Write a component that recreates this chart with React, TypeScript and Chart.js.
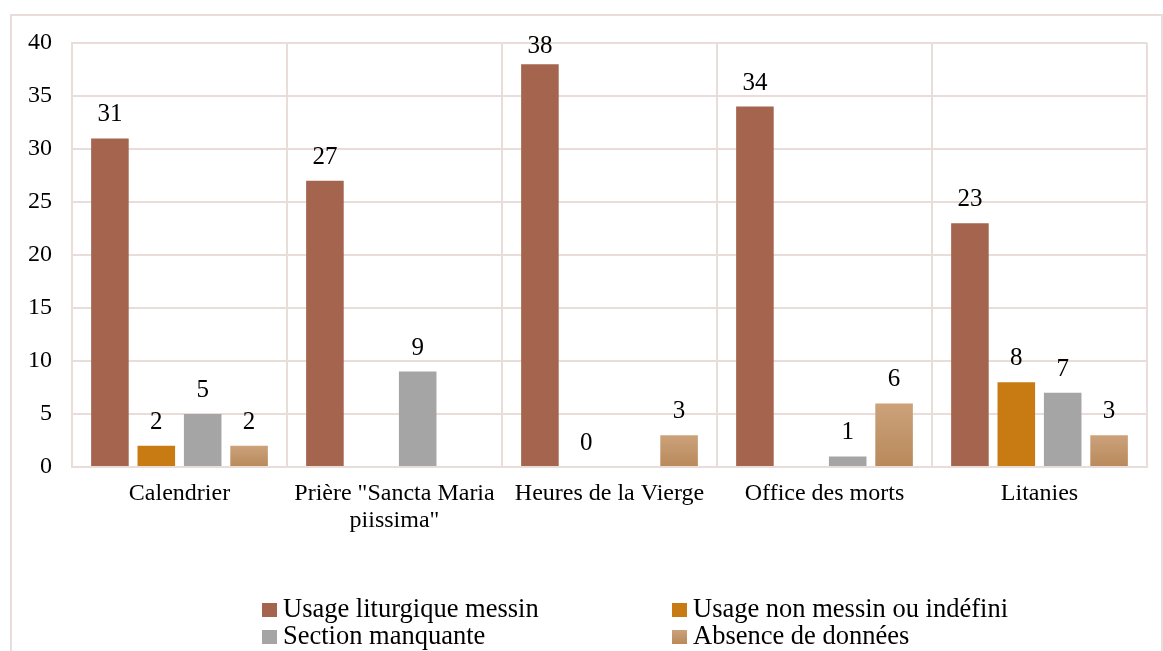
import React, { useEffect, useRef } from "react";
import { Chart, registerables } from "chart.js";

Chart.register(...registerables);

const categories: (string | string[])[] = [
  "Calendrier",
  ["Prière \"Sancta Maria", "piissima\""],
  "Heures de la Vierge",
  "Office des morts",
  "Litanies",
];
const seriesNames = [
  "Usage liturgique messin",
  "Usage non messin ou indéfini",
  "Section manquante",
  "Absence de données",
];
const usageMessin: (number | null)[] = [31, 27, 38, 34, 23];
const usageNonMessin: (number | null)[] = [2, null, 0, null, 8];
const sectionManquante: (number | null)[] = [5, 9, null, 1, 7];
const absenceDonnees: (number | null)[] = [2, null, 3, 6, 3];
const yMin = 0;
const yMax = 40;
const yStep = 5;

const FONT = "'Liberation Serif', 'Times New Roman', serif";
const GRID = "#E8DDD8";
const COLORS = ["#A4644D", "#C87B12", "#A5A5A5", "#C49A6C"];
const TAN_TOP = "#CCA27B";
const TAN_BOTTOM = "#B8895A";

const valueLabels = {
  id: "valueLabels",
  afterDatasetsDraw(chart: any) {
    const ctx = chart.ctx;
    ctx.save();
    ctx.font = `25px ${FONT}`;
    ctx.fillStyle = "#000";
    ctx.textAlign = "center";
    ctx.textBaseline = "alphabetic";
    chart.data.datasets.forEach((ds: any, di: number) => {
      const meta = chart.getDatasetMeta(di);
      meta.data.forEach((el: any, i: number) => {
        const v = ds.data[i];
        if (v === null || v === undefined) return;
        const by = Math.max(el.y - 17, chart.chartArea.top + 10);
        ctx.fillText(String(v), el.x, by);
      });
    });
    ctx.restore();
  },
};

const frameAndLegend = {
  id: "frameAndLegend",
  beforeDraw(chart: any) {
    const ctx = chart.ctx;
    ctx.save();
    ctx.fillStyle = "#fff";
    ctx.fillRect(0, 0, chart.width, chart.height);
    ctx.strokeStyle = GRID;
    ctx.lineWidth = 2;
    ctx.strokeRect(11, 15, 1151, 700);
    ctx.restore();
  },
  afterDraw(chart: any) {
    const ctx = chart.ctx;
    ctx.save();
    ctx.font = `26.5px ${FONT}`;
    ctx.fillStyle = "#000";
    ctx.textBaseline = "alphabetic";
    ctx.textAlign = "left";
    const cols = [262, 672];
    const rows = [617, 644];
    chart.data.datasets.forEach((ds: any, i: number) => {
      const mx = cols[i % 2];
      const by = rows[Math.floor(i / 2)];
      if (i === 3) {
        const g = ctx.createLinearGradient(0, by - 14, 0, by);
        g.addColorStop(0, TAN_TOP);
        g.addColorStop(1, TAN_BOTTOM);
        ctx.fillStyle = g;
      } else {
        ctx.fillStyle = COLORS[i];
      }
      ctx.fillRect(mx, by - 14, 15, 14);
      ctx.fillStyle = "#000";
      ctx.fillText(ds.label, mx + 21, by);
    });
    ctx.restore();
  },
};

function tanGradient(c: any) {
  const chart = c.chart;
  const y = chart.scales && chart.scales.y;
  if (!y || c.raw === null || c.raw === undefined) return COLORS[3];
  const top = y.getPixelForValue(c.raw);
  const bot = y.getPixelForValue(0);
  if (!isFinite(top) || !isFinite(bot) || bot - top < 1) return COLORS[3];
  const g = chart.ctx.createLinearGradient(0, top, 0, bot);
  g.addColorStop(0, TAN_TOP);
  g.addColorStop(1, TAN_BOTTOM);
  return g;
}

export default function App() {
  const ref = useRef<HTMLCanvasElement | null>(null);
  useEffect(() => {
    if (!ref.current) return;
    const series = [usageMessin, usageNonMessin, sectionManquante, absenceDonnees];
    const chart = new Chart(ref.current, {
      type: "bar",
      data: {
        labels: categories as any,
        datasets: series.map((d, i) => ({
          label: seriesNames[i],
          data: d,
          backgroundColor: i === 3 ? (tanGradient as any) : COLORS[i],
          borderWidth: 0,
          categoryPercentage: 0.863,
          barPercentage: 0.81,
        })),
      },
      options: {
        animation: false,
        responsive: false,
        maintainAspectRatio: false,
        layout: { padding: { left: 0, right: 16, top: 43, bottom: 0 } },
        plugins: {
          legend: { display: false },
          tooltip: { enabled: false },
          title: { display: false },
        },
        scales: {
          x: {
            grid: { color: GRID, lineWidth: 2, drawTicks: false, offset: true },
            border: { display: true, color: GRID, width: 2 },
            ticks: {
              color: "#000",
              padding: 14,
              maxRotation: 0,
              autoSkip: false,
              font: { family: FONT, size: 24, lineHeight: 1.1 },
            },
            afterFit: (s: any) => {
              s.height = 184;
            },
          },
          y: {
            min: yMin,
            max: yMax,
            grid: { color: GRID, lineWidth: 2, drawTicks: false },
            border: { display: true, color: GRID, width: 2 },
            ticks: {
              stepSize: yStep,
              color: "#000",
              padding: 20,
              font: { family: FONT, size: 24 },
            },
            afterFit: (s: any) => {
              s.width = 72;
            },
          },
        },
      },
      plugins: [frameAndLegend, valueLabels],
    });
    return () => chart.destroy();
  }, []);
  return (
    <div style={{ position: "fixed", left: 0, top: 0, width: 1163, height: 651, background: "#fff" }}>
      <canvas ref={ref} width={1163} height={651} style={{ display: "block", width: 1163, height: 651 }} />
    </div>
  );
}
